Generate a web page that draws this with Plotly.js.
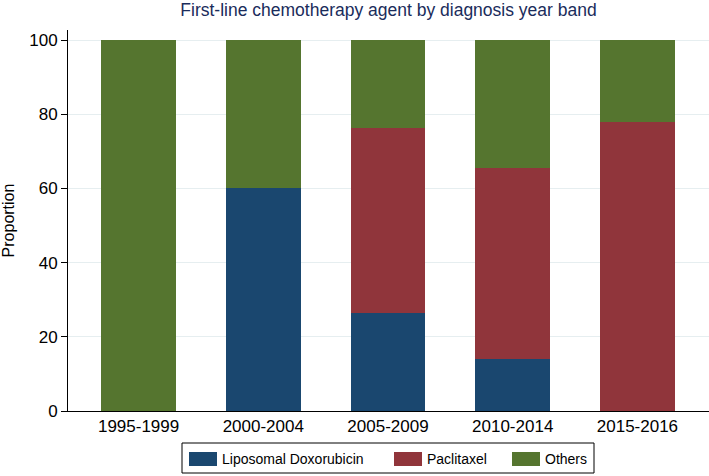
<!DOCTYPE html>
<html>
<head>
<meta charset="utf-8">
<script src="https://cdn.plot.ly/plotly-3.0.1.min.js"></script>
<style>html,body{margin:0;padding:0;background:#fff;}#chart{width:709px;height:476px;}</style>
</head>
<body>
<div id="chart"></div>
<script>
const categories = ["1995-1999", "2000-2004", "2005-2009", "2010-2014", "2015-2016"];
const seriesNames = ["Liposomal Doxorubicin", "Paclitaxel", "Others"];
const liposomalDoxorubicin = [0, 60, 26.3, 14.0, 0];
const paclitaxel = [0, 0, 50.0, 51.5, 77.8];
const others = [100, 40, 23.7, 34.5, 22.2];
const yTicks = [0, 20, 40, 60, 80, 100];
const colors = ["#1a476f", "#90353b", "#55752f"];

const W = 709, H = 476, L = 68, R = 0, T = 30, B = 65;
const pw = W - L - R, ph = H - T - B;
const px = x => (x - L) / pw;
const py = y => (H - B - y) / ph;
const font = "Liberation Sans, Arial, sans-serif";

const values = [liposomalDoxorubicin, paclitaxel, others];
const traces = values.map((v, i) => ({
  type: "bar", x: categories, y: v, name: seriesNames[i],
  marker: {color: colors[i], line: {width: 0}},
  width: 0.6, showlegend: false, hoverinfo: "x+y+name"
}));

// custom legend (positions in pixels)
const legendBox = {x0: 182, x1: 594, y0: 443, y1: 473};
const swatchX = [189, 394, 512];
const shapes = [{type: "rect", xref: "paper", yref: "paper",
  x0: px(legendBox.x0), x1: px(legendBox.x1), y0: py(legendBox.y1), y1: py(legendBox.y0),
  line: {color: "#000", width: 1}, fillcolor: "rgba(0,0,0,0)"}];
const annotations = [];
seriesNames.forEach((n, i) => {
  shapes.push({type: "rect", xref: "paper", yref: "paper",
    x0: px(swatchX[i]), x1: px(swatchX[i] + 28), y0: py(466), y1: py(452),
    line: {width: 0}, fillcolor: colors[i]});
  annotations.push({xref: "paper", yref: "paper", x: px(swatchX[i] + 31), y: py(459),
    xanchor: "left", yanchor: "middle", showarrow: false, text: n,
    font: {family: font, size: 14, color: "#000"}});
});

const layout = {
  width: W, height: H,
  margin: {l: L, r: R, t: T, b: B},
  paper_bgcolor: "#fff", plot_bgcolor: "#fff",
  barmode: "stack", bargap: 0.4,
  font: {family: font, color: "#000"},
  title: {text: "First-line chemotherapy agent by diagnosis year band",
    x: 0.5, xref: "paper", xanchor: "center", y: 1 - 10 / H, yanchor: "middle",
    font: {family: font, size: 17.5, color: "#1a2c5b"}},
  xaxis: {type: "category", range: [-0.566, 4.574], showgrid: false, zeroline: false,
    showline: true, linecolor: "#000", linewidth: 1, ticks: "",
    tickfont: {family: font, size: 17, color: "#000"}, fixedrange: true},
  yaxis: {range: [0, 102.7], tickvals: yTicks, ticktext: yTicks.map(String),
    showgrid: true, gridcolor: "#e6eef0", gridwidth: 1, zeroline: false,
    showline: true, linecolor: "#000", linewidth: 1, ticks: "outside", ticklen: 6,
    tickcolor: "#000", tickfont: {family: font, size: 17, color: "#000"},
    title: {text: "Proportion", standoff: 10, font: {family: font, size: 16, color: "#000"}},
    automargin: false, fixedrange: true},
  shapes: shapes,
  annotations: annotations
};

Plotly.newPlot("chart", traces, layout, {displayModeBar: false, staticPlot: true});
</script>
</body>
</html>
